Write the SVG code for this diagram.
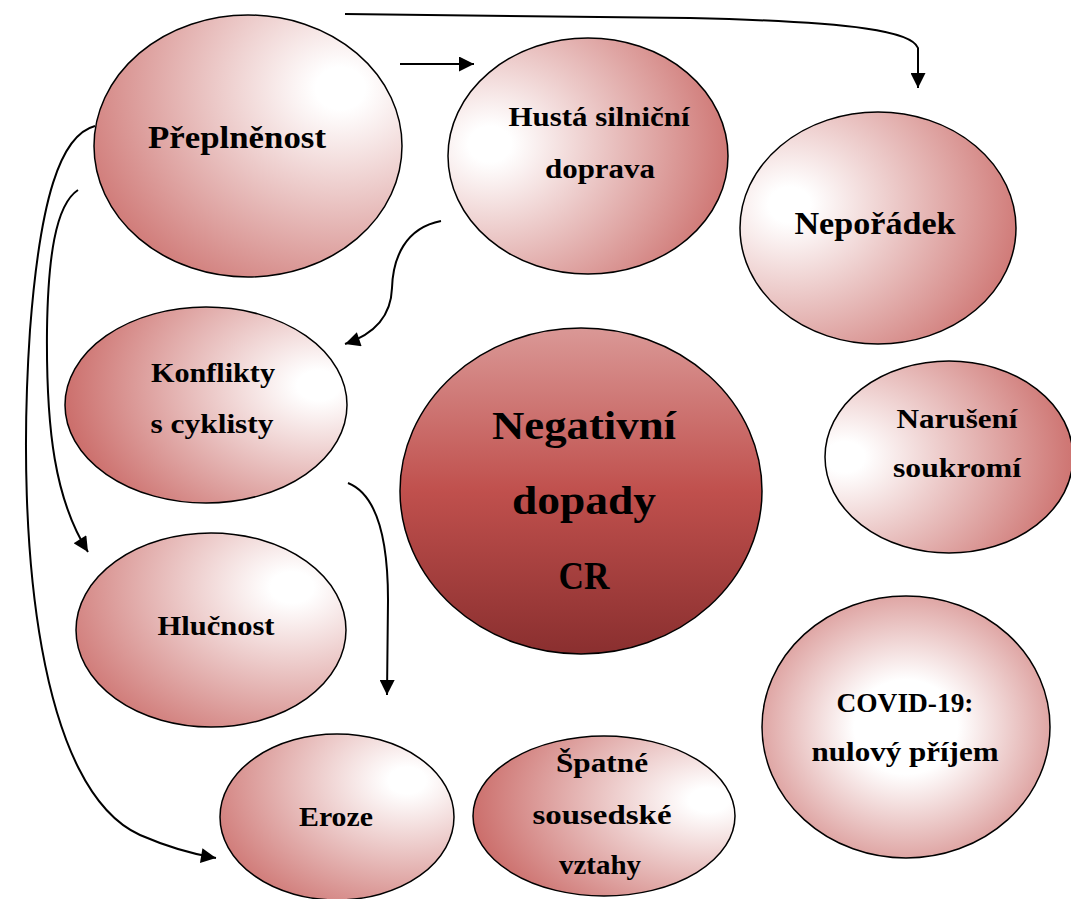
<svg xmlns="http://www.w3.org/2000/svg" width="1071" height="899" viewBox="0 0 1071 899">
<style>
.n{stroke:#000;stroke-width:1.5}
.t{font-family:"Liberation Serif","DejaVu Serif",serif;font-weight:bold;fill:#000;text-anchor:middle}
.c{fill:none;stroke:#000;stroke-width:2}
</style>
<defs>
<marker id="ah" viewBox="0 0 10 10" refX="10" refY="5" markerWidth="8.5" markerHeight="7.5" markerUnits="strokeWidth" orient="auto">
<path d="M0,0 L10,5 L0,10 z" fill="#000"/>
</marker>
<radialGradient id="gUR" cx="0.8" cy="0.28" r="1.0"><stop offset="0.08" stop-color="#fff"/><stop offset="1" stop-color="#c96764"/></radialGradient>
<radialGradient id="gUL" cx="0.15" cy="0.45" r="0.95"><stop offset="0.08" stop-color="#fff"/><stop offset="1" stop-color="#c96764"/></radialGradient>
<radialGradient id="gL" cx="0.18" cy="0.4" r="0.95"><stop offset="0.08" stop-color="#fff"/><stop offset="1" stop-color="#c96764"/></radialGradient>
<radialGradient id="gR" cx="0.9" cy="0.4" r="0.95"><stop offset="0.08" stop-color="#fff"/><stop offset="1" stop-color="#c96764"/></radialGradient>
<radialGradient id="gC" cx="0.5" cy="0.5" r="0.6"><stop offset="0.3" stop-color="#fff"/><stop offset="1" stop-color="#d58a88"/></radialGradient>
<radialGradient id="gL2" cx="0.08" cy="0.5" r="1.0"><stop offset="0.08" stop-color="#fff"/><stop offset="1" stop-color="#c96764"/></radialGradient>
<linearGradient id="gMain" x1="0" y1="0" x2="0" y2="1"><stop offset="0" stop-color="#da9896"/><stop offset="0.5" stop-color="#c0504d"/><stop offset="1" stop-color="#8a2f2f"/></linearGradient>
</defs>

<g id="connectors">
<path class="c" d="M345,14 L690,18 C860,22 912,32 918,48 L918,88" marker-end="url(#ah)"/>
<path class="c" d="M400,64 L474,64" marker-end="url(#ah)"/>
<path class="c" d="M441,221 C405,228 393,258 392,288 C391,318 372,335 345,344" marker-end="url(#ah)"/>
<path class="c" d="M348,483 C378,495 388,540 388,600 L387,695" marker-end="url(#ah)"/>
<path class="c" d="M78,190 C55,205 48,260 47,330 C46,430 55,500 88,552" marker-end="url(#ah)"/>
<path class="c" d="M95,126 C60,135 40,200 30,330 C15,550 40,790 140,835 C170,848 192,854 216,858" marker-end="url(#ah)"/>
</g>

<g id="node-preplnenost">
<ellipse class="n" cx="248" cy="146" rx="154" ry="131" fill="url(#gUR)"/>
<text class="t" x="237" y="148" font-size="31" textLength="178" lengthAdjust="spacingAndGlyphs">Přeplněnost</text>
</g>
<g id="node-husta">
<ellipse class="n" cx="588" cy="156" rx="140" ry="118" fill="url(#gUL)"/>
<text class="t" x="599" y="126" font-size="28" textLength="181" lengthAdjust="spacingAndGlyphs">Hustá silniční</text>
<text class="t" x="600" y="178" font-size="28" textLength="110" lengthAdjust="spacingAndGlyphs">doprava</text>
</g>
<g id="node-neporadek">
<ellipse class="n" cx="878" cy="228" rx="138" ry="116" fill="url(#gL)"/>
<text class="t" x="875" y="234" font-size="31" textLength="161" lengthAdjust="spacingAndGlyphs">Nepořádek</text>
</g>
<g id="node-konflikty">
<ellipse class="n" cx="206" cy="405" rx="141" ry="98" fill="url(#gR)"/>
<text class="t" x="213" y="382" font-size="28" textLength="124" lengthAdjust="spacingAndGlyphs">Konflikty</text>
<text class="t" x="212" y="433" font-size="28" textLength="123" lengthAdjust="spacingAndGlyphs">s cyklisty</text>
</g>
<g id="node-hlucnost">
<ellipse class="n" cx="211" cy="630" rx="135" ry="97" fill="url(#gUR)"/>
<text class="t" x="216" y="635" font-size="28" textLength="117" lengthAdjust="spacingAndGlyphs">Hlučnost</text>
</g>
<g id="node-main">
<ellipse class="n" cx="581" cy="491" rx="181" ry="163" fill="url(#gMain)"/>
<text class="t" x="584" y="439" font-size="40" textLength="184" lengthAdjust="spacingAndGlyphs">Negativní</text>
<text class="t" x="584" y="514" font-size="40" textLength="144" lengthAdjust="spacingAndGlyphs">dopady</text>
<text class="t" x="584" y="589" font-size="40" textLength="51" lengthAdjust="spacingAndGlyphs">CR</text>
</g>
<g id="node-eroze">
<ellipse class="n" cx="337" cy="817" rx="117" ry="83" fill="url(#gUR)"/>
<text class="t" x="336" y="826" font-size="28" textLength="74" lengthAdjust="spacingAndGlyphs">Eroze</text>
</g>
<g id="node-spatne">
<ellipse class="n" cx="604" cy="816" rx="131" ry="80" fill="url(#gR)"/>
<text class="t" x="602" y="772" font-size="28" textLength="92" lengthAdjust="spacingAndGlyphs">Špatné</text>
<text class="t" x="602" y="824" font-size="28" textLength="139" lengthAdjust="spacingAndGlyphs">sousedské</text>
<text class="t" x="600" y="874" font-size="28" textLength="82" lengthAdjust="spacingAndGlyphs">vztahy</text>
</g>
<g id="node-naruseni">
<ellipse class="n" cx="949" cy="457" rx="124" ry="96" fill="url(#gL2)"/>
<text class="t" x="957" y="428" font-size="28" textLength="121" lengthAdjust="spacingAndGlyphs">Narušení</text>
<text class="t" x="957" y="477" font-size="28" textLength="128" lengthAdjust="spacingAndGlyphs">soukromí</text>
</g>
<g id="node-covid">
<ellipse class="n" cx="906" cy="727" rx="144" ry="131" fill="url(#gC)"/>
<text class="t" x="905" y="712" font-size="28" textLength="137" lengthAdjust="spacingAndGlyphs">COVID-19:</text>
<text class="t" x="905" y="761" font-size="28" textLength="187" lengthAdjust="spacingAndGlyphs">nulový příjem</text>
</g>
</svg>
